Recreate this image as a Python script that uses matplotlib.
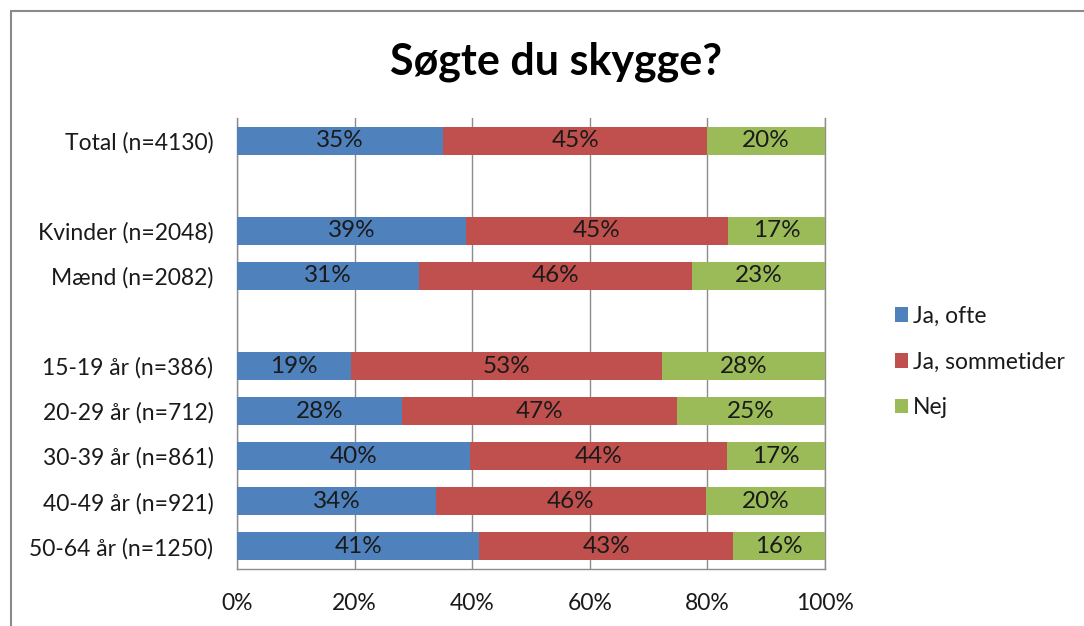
import matplotlib.pyplot as plt
from matplotlib.patches import Rectangle, Patch

plt.rcParams['font.family'] = ['Lato', 'DejaVu Sans']

# rows from top to bottom, empty strings are the spacer rows
categories = ["Total (n=4130)", "", "Kvinder (n=2048)", "Mænd (n=2082)", "",
              "15-19 år (n=386)", "20-29 år (n=712)", "30-39 år (n=861)",
              "40-49 år (n=921)", "50-64 år (n=1250)"]
ja_ofte = [35.0, None, 38.9, 31.0, None, 19.4, 28.1, 39.6, 33.8, 41.2]
ja_sommetider = [45.0, None, 44.6, 46.4, None, 52.9, 46.7, 43.7, 46.0, 43.2]
nej = [20.0, None, 16.6, 22.6, None, 27.7, 25.2, 16.7, 20.2, 15.6]
series_names = ["Ja, ofte", "Ja, sommetider", "Nej"]
xticks = [0, 20, 40, 60, 80, 100]

BLUE = "#4F81BD"
RED = "#C0504D"
GREEN = "#9BBB59"
TEXT = "#1A1A1A"
GRID = "#8C8C8C"
FS = 16.5

fig = plt.figure(figsize=(10.84, 6.26), dpi=100)
ax = fig.add_axes([237 / 1084, 1 - 569 / 626, 588 / 1084, 451 / 626])

ypos = list(range(len(categories)))
for i, y in enumerate(ypos):
    if ja_ofte[i] is None:
        continue
    left = 0
    for val, col in zip((ja_ofte[i], ja_sommetider[i], nej[i]), (BLUE, RED, GREEN)):
        ax.barh(y, val, left=left, height=0.62, color=col, zorder=3)
        ax.text(left + val / 2, y, f"{val:.0f}%", ha="center", va="center",
                fontsize=17.5, color=TEXT, zorder=4)
        left += val

ax.set_xlim(0, 100)
ax.set_ylim(len(categories) - 0.5, -0.5)
ax.set_yticks(ypos)
ax.set_yticklabels(categories, fontsize=FS, color=TEXT)
ax.set_xticks(xticks)
ax.set_xticklabels([f"{t}%" for t in xticks], fontsize=FS, color=TEXT)
ax.tick_params(axis="both", length=0)
ax.tick_params(axis="y", pad=17)
ax.tick_params(axis="x", pad=17)

ax.grid(axis="x", color=GRID, linewidth=1, zorder=0)
ax.spines["top"].set_visible(False)
for s in ("left", "right", "bottom"):
    ax.spines[s].set_color(GRID)
    ax.spines[s].set_linewidth(1)

handles = [Patch(facecolor=c, edgecolor="none") for c in (BLUE, RED, GREEN)]
fig.legend(handles, series_names, loc="center left",
           bbox_to_anchor=(874 / 1084, 1 - 362 / 626), frameon=False,
           fontsize=FS, labelcolor=TEXT, handlelength=0.6, handleheight=0.6,
           handletextpad=0.2, labelspacing=1.08)

fig.text(556 / 1084, 1 - 62 / 626, "Søgte du skygge?", ha="center", va="center",
         fontsize=31, fontweight="bold", color="black")

# outer chart frame, cut off at right and bottom like the screenshot
fig.patches.append(Rectangle((11 / 1084, -0.05), 1.1, 1 - 11 / 626 + 0.05,
                             transform=fig.transFigure, fill=False,
                             edgecolor="#8A8A8A", linewidth=1.5))

fig.savefig("out.png", dpi=100, facecolor="white")
